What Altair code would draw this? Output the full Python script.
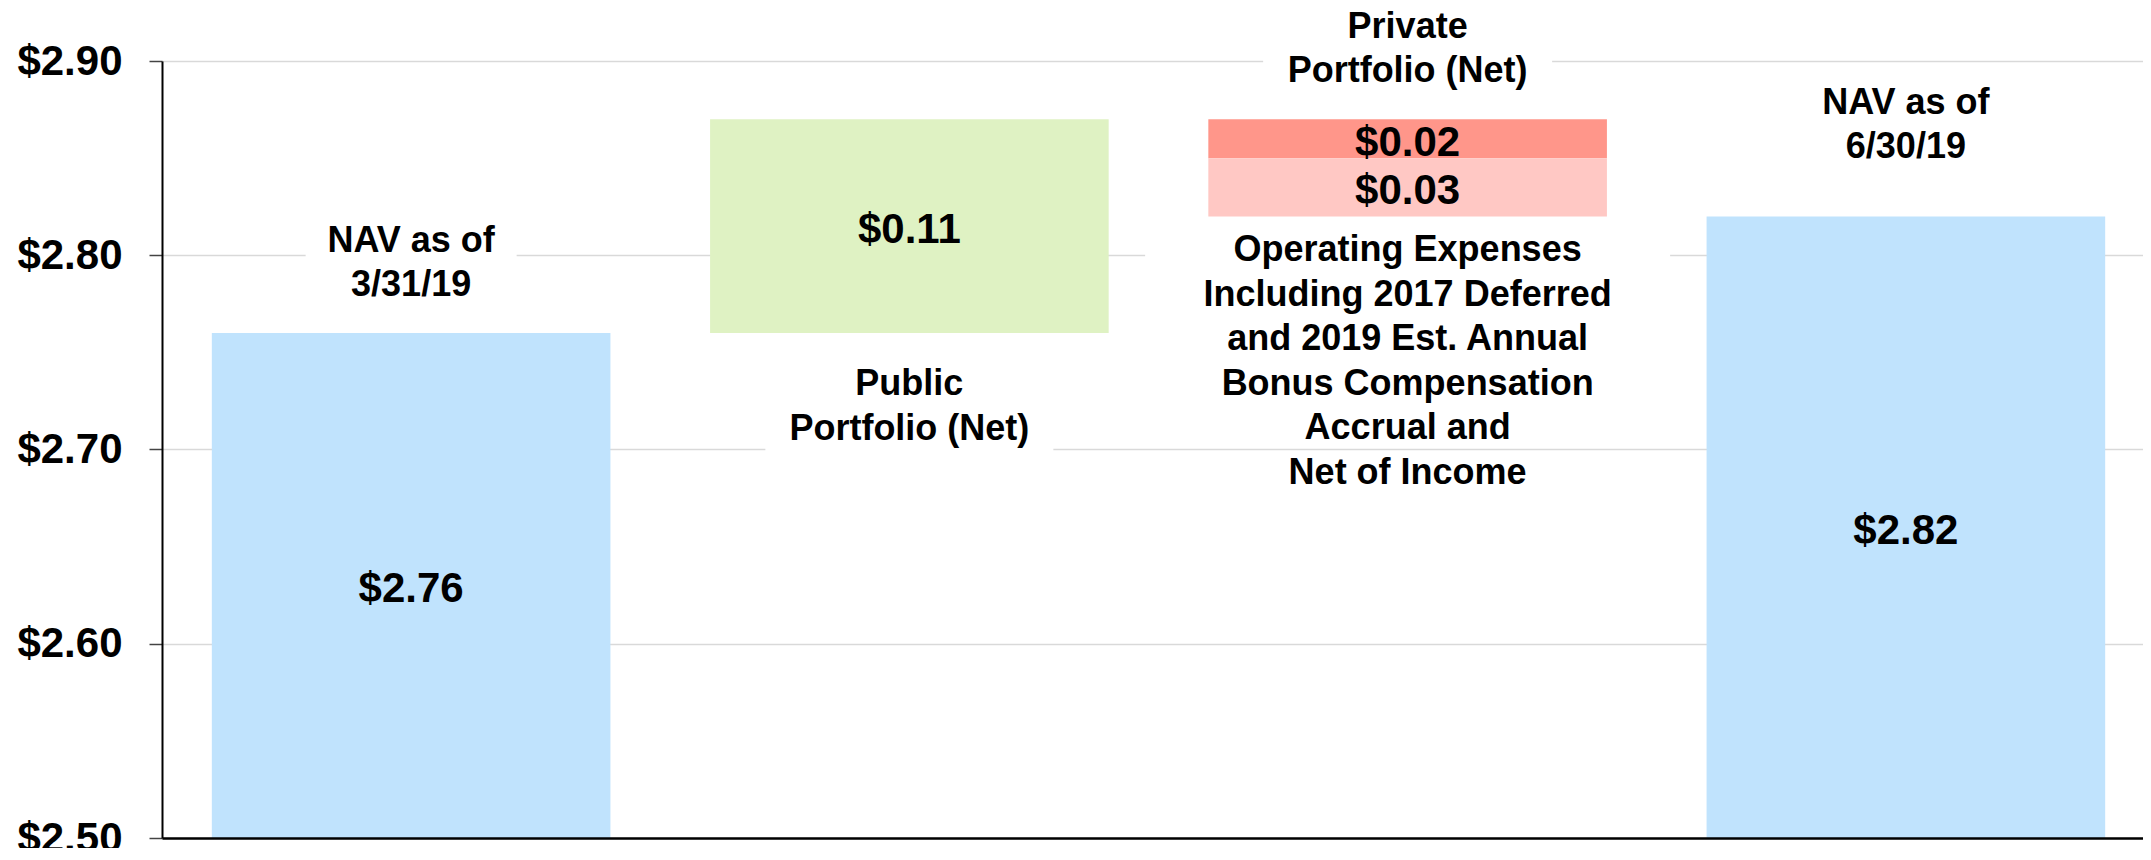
import altair as alt
import pandas as pd

# ---------------- data ----------------
steps = [
    "NAV as of 3/31/19",
    "Public Portfolio (Net)",
    "Private Portfolio (Net)",
    "Operating Expenses",
    "NAV as of 6/30/19",
]
changes = [2.76, 0.11, -0.02, -0.03, 2.82]
kinds = ["total", "increase", "decrease", "decrease", "total"]
slots = ["Start NAV", "Public", "Private & Expenses", "End NAV"]
step_slot = [0, 1, 2, 2, 3]
category_labels = [
    "NAV as of\n3/31/19",
    "Public\nPortfolio (Net)",
    "Private\nPortfolio (Net)",
    "Operating Expenses\nIncluding 2017 Deferred\nand 2019 Est. Annual\nBonus Compensation\nAccrual and\nNet of Income",
    "NAV as of\n6/30/19",
]
y_ticks = [2.50, 2.60, 2.70, 2.80, 2.90]

# ---------------- styling ----------------
FONT = "Liberation Sans"
Y_MIN, Y_MAX = 2.50, 2.90
PLOT_W, PLOT_H = 1981, 777
UPP = (Y_MAX - Y_MIN) / PLOT_H  # data units per pixel
LINE_H = 44.5
TEXT_NUDGE_PX = 4
bar_colors = ["#C0E3FD", "#DFF2C3", "#FF968A", "#FFC8C4", "#C0E3FD"]
label_side = ["above", "below", "above", "below", "above"]
label_gap_px = [74, 69.5, 74.5, 141, 95.5]
box_w_px = [211, 288, 289, 525, 0]
box_up_px = [47, 50, 45, 133, 0]
box_down_px = [46, 60, 44, 60, 0]

# ---------------- build table ----------------
rows = []
running = 0.0
for i, (name, ch, kind) in enumerate(zip(steps, changes, kinds)):
    if kind == "total":
        start, end = 0.0, ch
        running = ch
    else:
        start, end = running, running + ch
        running = end
    lo, hi = min(start, end), max(start, end)
    mid = (max(lo, Y_MIN) + hi) / 2
    if label_side[i] == "above":
        block_c = hi + label_gap_px[i] * UPP
    else:
        block_c = lo - label_gap_px[i] * UPP
    n_lines = category_labels[i].count("\n") + 1
    # Vega anchors the first line of a multi-line text at y
    first_line_y = block_c + (n_lines - 1) / 2 * LINE_H * UPP
    rows.append(
        dict(
            step=name,
            slot=slots[step_slot[i]],
            start=start,
            end=end,
            mid=mid,
            value_text=f"${abs(ch):.2f}",
            color=bar_colors[i],
            cat_text=category_labels[i],
            cat_y=first_line_y,
            box_top=block_c + box_up_px[i] * UPP,
            box_bot=block_c - box_down_px[i] * UPP,
            box_w=box_w_px[i],
        )
    )
df = pd.DataFrame(rows)
boxes_df = df[df["box_w"] > 0]

x_enc = alt.X(
    "slot:N",
    sort=slots,
    title=None,
    scale=alt.Scale(range=[0, 1993], paddingInner=0.2, paddingOuter=0.1),
    axis=alt.Axis(
        labels=False,
        ticks=False,
        grid=False,
        domainColor="black",
        domainWidth=2.7,
        zindex=1,
    ),
)
y_scale = alt.Scale(domain=[Y_MIN, Y_MAX], nice=False, zero=False)
y_axis = alt.Axis(
    values=y_ticks,
    format="$.2f",
    labelFont=FONT,
    labelFontSize=42,
    labelFontWeight="bold",
    labelColor="black",
    labelPadding=27,
    labelOverlap=False,
    labelBound=False,
    labelFlush=False,
    tickSize=13,
    tickColor="#444444",
    tickWidth=1.5,
    domainColor="black",
    domainWidth=2,
    gridColor="#D9D9D9",
    gridWidth=1.5,
)

boxes = (
    alt.Chart(boxes_df)
    .mark_bar(color="white", clip=False)
    .encode(
        x=x_enc,
        y=alt.Y("box_top:Q", scale=y_scale, axis=y_axis, title=None),
        y2="box_bot:Q",
        size=alt.Size("box_w:Q", scale=None),
    )
)

bars = (
    alt.Chart(df)
    .mark_bar(clip=True)
    .encode(
        x=x_enc,
        y=alt.Y("end:Q", scale=y_scale, axis=y_axis, title=None),
        y2="start:Q",
        color=alt.Color("color:N", scale=None),
    )
)

values = (
    alt.Chart(df)
    .mark_text(
        font=FONT,
        fontSize=42,
        fontWeight="bold",
        color="black",
        baseline="middle",
        align="center",
        dy=TEXT_NUDGE_PX,
    )
    .encode(
        x=x_enc,
        y=alt.Y("mid:Q", scale=y_scale, axis=y_axis, title=None),
        text="value_text:N",
    )
)

cats = (
    alt.Chart(df)
    .mark_text(
        font=FONT,
        fontSize=36,
        fontWeight="bold",
        color="black",
        baseline="middle",
        align="center",
        lineBreak="\n",
        lineHeight=LINE_H,
        dy=TEXT_NUDGE_PX,
    )
    .encode(
        x=x_enc,
        y=alt.Y("cat_y:Q", scale=y_scale, axis=y_axis, title=None),
        text="cat_text:N",
    )
)

chart = (
    alt.layer(boxes, bars, values, cats)
    .properties(
        width=PLOT_W,
        height=PLOT_H,
        autosize=alt.AutoSizeParams(type="none"),
        padding={"left": 154, "top": 53, "right": 0, "bottom": 10},
        background="white",
    )
    .configure_view(stroke=None)
)

chart.save("out.html", embed_options={"renderer": "svg", "actions": False})
